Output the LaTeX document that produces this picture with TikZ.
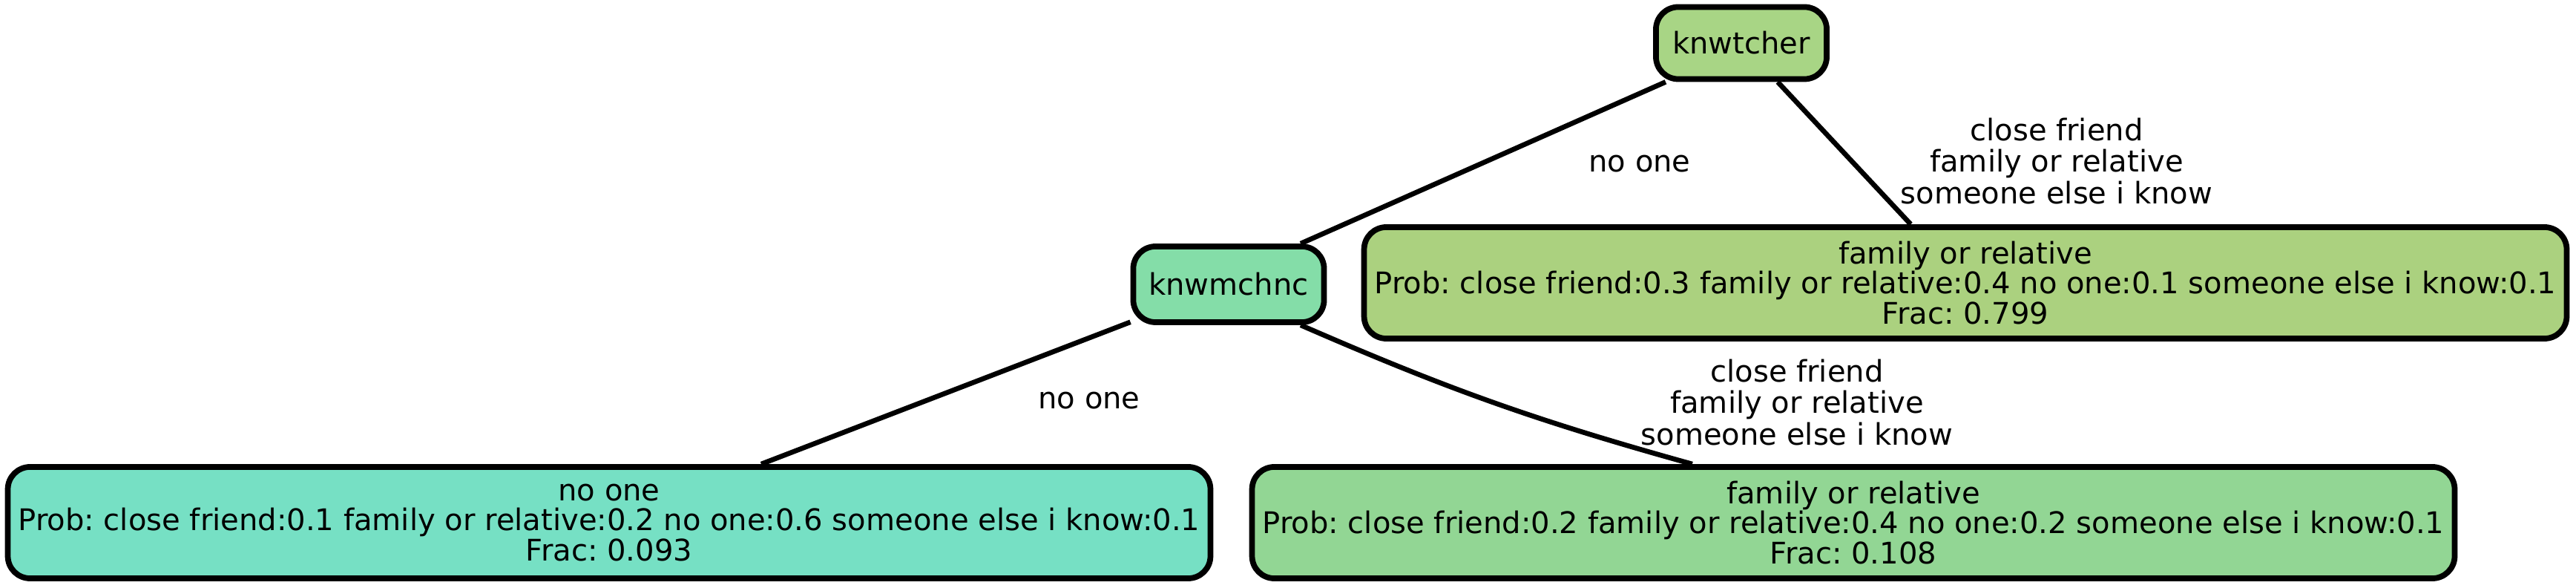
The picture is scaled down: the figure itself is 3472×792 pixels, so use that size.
\documentclass[tikz,border=0pt]{standalone}
\usepackage{fontspec}
\setmainfont{DejaVu Sans}
\definecolor{cTch}{RGB}{168,213,133}
\definecolor{cMch}{RGB}{132,221,168}
\definecolor{cL1}{RGB}{171,209,127}
\definecolor{cL2}{RGB}{118,224,196}
\definecolor{cL3}{RGB}{146,214,148}
\tikzset{
  box/.style={draw=black, line width=2.2pt, rounded corners=0.3cm, align=center, inner sep=0pt, font=\fontsize{11.4}{11.4}\selectfont\frenchspacing},
  split/.style={box, minimum width=2.3cm, minimum height=0.97cm},
  leaf/.style={box, minimum width=16.2cm, minimum height=1.5cm},
  edge/.style={draw=black, line width=1.9pt},
  elabel/.style={align=center, inner sep=0pt, font=\fontsize{11.4}{12}\selectfont\frenchspacing}
}
\begin{document}
\begin{tikzpicture}[x=0.01cm, y=-0.01cm]
\useasboundingbox (0,0) rectangle (3472,792);
\node[split, fill=cTch] (tch) at (2347,58) {knwtcher};
\node[split, fill=cMch, minimum width=2.57cm, minimum height=1.02cm] (mch) at (1656,383) {knwmchnc};
\node[leaf, fill=cL1] (l1) at (2649,381) {family or relative\\Prob: close friend:0.3 family or relative:0.4 no one:0.1 someone else i know:0.1\\Frac: 0.799};
\node[leaf, fill=cL2] (l2) at (821,704) {no one\\Prob: close friend:0.1 family or relative:0.2 no one:0.6 someone else i know:0.1\\Frac: 0.093};
\node[leaf, fill=cL3] (l3) at (2498,704) {family or relative\\Prob: close friend:0.2 family or relative:0.4 no one:0.2 someone else i know:0.1\\Frac: 0.108};
\coordinate (a1) at ([xshift=0.97cm]mch.north);
\coordinate (a2) at ([xshift=-1.02cm]tch.south);
\coordinate (b1) at ([xshift=0.97cm]mch.south);
\coordinate (b2) at ([xshift=-2.17cm]l3.north);
\draw[edge] (a2) -- (a1);
\draw[edge] (tch) -- (l1);
\draw[edge] (mch) -- (l2);
\draw[edge] (b1) to[bend right=4] (b2);
\node[elabel] (e1) at (2210,221) {no one};
\node[elabel] (e2) at (2772,217) {close friend\\family or relative\\someone else i know};
\node[elabel] (e3) at (1468,540) {no one};
\node[elabel] (e4) at (2422,542) {close friend\\family or relative\\someone else i know};
\end{tikzpicture}
\end{document}
